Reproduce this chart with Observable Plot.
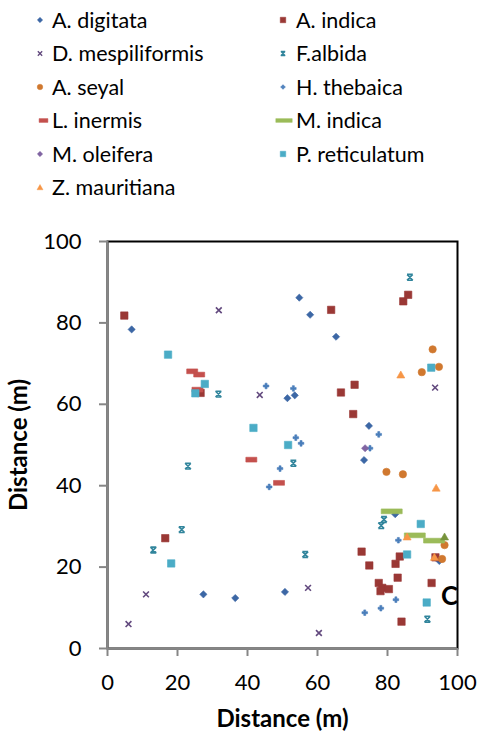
<!DOCTYPE html>
<html><head><meta charset="utf-8">
<script src="https://cdn.jsdelivr.net/npm/d3@7"></script>
<script src="https://cdn.jsdelivr.net/npm/@observablehq/plot@0.6"></script>
<style>
body{margin:0;background:#fff;font-family:Lato,sans-serif;}
#wrap{position:relative;width:478px;height:737px;overflow:hidden;background:#fff}
#legend{position:absolute;left:0;top:0;width:478px;height:220px}
#chart{position:absolute;left:0;top:220px}
#lbl{position:absolute;left:441px;top:582px;font:bold 26px Lato;color:#000;line-height:1}
</style></head><body>
<div id="wrap"><div id="legend"></div><div id="chart"></div><div id="lbl">C</div></div>
<script>
// ---- data ----
const seriesNames = ["A. digitata","A. indica","D. mespiliformis","F.albida","A. seyal","H. thebaica","L. inermis","M. indica","M. oleifera","P. reticulatum","Z. mauritiana"];
const xTicks = [0,20,40,60,80,100];
const yTicks = [0,20,40,60,80,100];

const aDigitataX = [6.9,54.8,57.9,65.3,51.4,53.5,74.7,73.3,27.4,36.5,50.7,82.2,94.8];
const aDigitataY = [78.4,86.2,82.0,76.6,61.5,62.2,54.7,46.3,13.3,12.4,13.9,33.0,21.5];
const aIndicaX = [4.8,63.9,84.5,85.9,66.7,70.6,70.2,26.6,16.5,72.6,74.8,83.5,82.3,82.9,77.5,78.5,78.0,80.4,92.6,84.0,93.7];
const aIndicaY = [81.8,83.2,85.3,86.9,62.9,64.8,57.6,62.8,27.1,23.8,20.4,22.6,20.8,17.4,16.1,14.9,14.1,14.6,16.1,6.6,22.4];
const dMespX = [31.8,43.5,93.6,11.0,6.0,57.3,60.4];
const dMespY = [83.1,62.3,64.1,13.3,6.0,14.9,3.8];
const fAlbidaX = [86.4,31.7,23.0,53.1,21.2,13.1,56.5,79.0,78.2,91.4];
const fAlbidaY = [91.2,62.5,44.8,45.5,29.2,24.2,23.1,31.7,30.2,7.2];
const aSeyalX = [92.9,94.7,89.8,79.7,84.4,96.3,95.6];
const aSeyalY = [73.5,69.2,67.9,43.4,42.8,25.4,22.0];
const hThebaicaX = [45.3,53.1,53.8,55.3,77.5,75.0,49.3,46.2,83.1,82.4,78.1,73.5];
const hThebaicaY = [64.5,63.9,51.8,50.4,52.6,49.2,44.2,39.7,26.6,12.0,9.9,8.8];
const lInermisX = [24.2,26.2,25.7,41.1,49.0];
const lInermisY = [68.1,67.3,63.6,46.4,40.7];
const mIndicaX = [81.2,87.8,93.3];
const mIndicaY = [33.7,27.8,26.5];
const mOleiferaX = [73.6];
const mOleiferaY = [49.2];
const pReticX = [17.3,27.8,25.1,41.7,51.6,92.5,18.2,89.5,85.6,91.2];
const pReticY = [72.2,65.0,62.7,54.2,50.0,69.0,20.9,30.6,23.1,11.3];
const zMaurX = [83.8,93.9,85.6,93.4];
const zMaurY = [67.2,39.4,27.4,22.4];
const extraX = [96.3];
const extraY = [27.4];

// ---- marker shapes ----
function poly(c, pts){ c.moveTo(pts[0][0],pts[0][1]); for(let i=1;i<pts.length;i++) c.lineTo(pts[i][0],pts[i][1]); c.closePath(); }
const shapes = {
  diamond: {draw(c){ const h=3.6; poly(c,[[0,-h],[h,0],[0,h],[-h,0]]); }},
  square: {draw(c){ const h=3.7; poly(c,[[-h,-h],[h,-h],[h,h],[-h,h]]); }},
  cross: {draw(c){ const h=2.9; c.moveTo(-h,-h);c.lineTo(h,h);c.moveTo(h,-h);c.lineTo(-h,h); }},
  star: {draw(c){ const h=2.9; c.moveTo(-h,-h);c.lineTo(h,h);c.moveTo(h,-h);c.lineTo(-h,h);c.moveTo(-h,-h);c.lineTo(h,-h);c.moveTo(-h,h);c.lineTo(h,h); }},
  circle: {draw(c){ c.moveTo(3.7,0); c.arc(0,0,3.7,0,2*Math.PI); }},
  plus: {draw(c){ const h=2.8,w=1; poly(c,[[-w,-h],[w,-h],[w,-w],[h,-w],[h,w],[w,w],[w,h],[-w,h],[-w,w],[-h,w],[-h,-w],[-w,-w]]); }},
  dash: {draw(c){ poly(c,[[-5.5,-2.4],[5.5,-2.4],[5.5,2.4],[-5.5,2.4]]); }},
  longdash: {draw(c){ poly(c,[[-10.5,-2.4],[10.5,-2.4],[10.5,2.4],[-10.5,2.4]]); }},
  triangle: {draw(c){ poly(c,[[0,-4],[4,3],[-4,3]]); }}
};

const series = [
  {name:seriesNames[0], x:aDigitataX, y:aDigitataY, shape:"diamond", color:"#3C67A5", filled:true},
  {name:seriesNames[1], x:aIndicaX, y:aIndicaY, shape:"square", color:"#9A3835", filled:true},
  {name:seriesNames[2], x:dMespX, y:dMespY, shape:"cross", color:"#62497E", filled:false},
  {name:seriesNames[3], x:fAlbidaX, y:fAlbidaY, shape:"star", color:"#31859C", filled:false},
  {name:seriesNames[4], x:aSeyalX, y:aSeyalY, shape:"circle", color:"#D0782F", filled:true},
  {name:seriesNames[5], x:hThebaicaX, y:hThebaicaY, shape:"plus", color:"#4A7EBB", filled:true},
  {name:seriesNames[6], x:lInermisX, y:lInermisY, shape:"dash", color:"#C4504D", filled:true},
  {name:seriesNames[7], x:mIndicaX, y:mIndicaY, shape:"longdash", color:"#9BBB59", filled:true},
  {name:seriesNames[8], x:mOleiferaX, y:mOleiferaY, shape:"diamond", color:"#8064A2", filled:true},
  {name:seriesNames[9], x:pReticX, y:pReticY, shape:"square", color:"#4BACC6", filled:true},
  {name:seriesNames[10], x:zMaurX, y:zMaurY, shape:"triangle", color:"#F79646", filled:true},
  {name:"", x:extraX, y:extraY, shape:"triangle", color:"#77933C", filled:true}
];

const dotMarks = series.map(s => {
  const data = s.x.map((v,i)=>({x:v, y:s.y[i]}));
  return Plot.dot(data, {x:"x", y:"y", symbol: shapes[s.shape],
    fill: s.filled ? s.color : "none", stroke: s.color, strokeWidth: s.filled ? 0.6 : 1.6});
});

const chart = Plot.plot({
  width: 478, height: 517,
  marginLeft: 107, marginRight: 21, marginTop: 21, marginBottom: 89,
  x: {domain:[0,100], label:null},
  y: {domain:[0,100], label:null},
  style: {fontFamily:"Lato, sans-serif", fontSize:"22px", color:"#000", background:"#fff"},
  marks: [
    Plot.frame({stroke:"#000", strokeWidth:2}),
    Plot.ruleX([0], {stroke:"#868686", strokeWidth:2}),
    Plot.ruleY([0], {stroke:"#868686", strokeWidth:2}),
    Plot.axisX({ticks:xTicks, tickSize:8, tickPadding:18, stroke:"#868686", strokeWidth:2, fill:"#000", label:null}),
    Plot.axisY({ticks:yTicks, tickSize:8, tickPadding:18, stroke:"#868686", strokeWidth:2, fill:"#000", label:null}),
    Plot.text(["Distance (m)"], {text:d=>d, frameAnchor:"bottom", dy:71, lineAnchor:"middle", fontWeight:"bold", fontSize:24, fill:"#000"}),
    Plot.text(["Distance (m)"], {text:d=>d, frameAnchor:"left", dx:-88, rotate:-90, textAnchor:"middle", lineAnchor:"middle", fontWeight:"bold", fontSize:24, fill:"#000"}),
    ...dotMarks
  ]
});
document.getElementById("chart").appendChild(chart);

// ---- legend ----
const lg = d3.select("#legend").append("svg").attr("width",478).attr("height",220);
const rowY = [20,53.5,87,120.5,154,187.5];
const colMark = [40,283], colText = [52,296];
series.slice(0,11).forEach((s,i)=>{
  const col = i%2, row = Math.floor(i/2);
  let mx = colMark[col];
  let sc = 0.75;
  if (s.shape==="dash") { mx = col===0?43.5:284; sc = 0.8; }
  if (s.shape==="longdash") { mx = 284; sc = 0.78; }
  const p = d3.path(); shapes[s.shape].draw(p);
  lg.append("path").attr("d", p.toString())
    .attr("transform", `translate(${mx},${rowY[row]}) scale(${sc})`)
    .attr("fill", s.filled ? s.color : "none").attr("stroke", s.color)
    .attr("stroke-width", s.filled ? 0.6 : 1.8);
  lg.append("text").attr("x", colText[col]).attr("y", rowY[row]).attr("dy","0.36em")
    .attr("font-family","Lato, sans-serif").attr("font-size",21.5).attr("fill","#000").text(s.name);
});
</script>
</body></html>
